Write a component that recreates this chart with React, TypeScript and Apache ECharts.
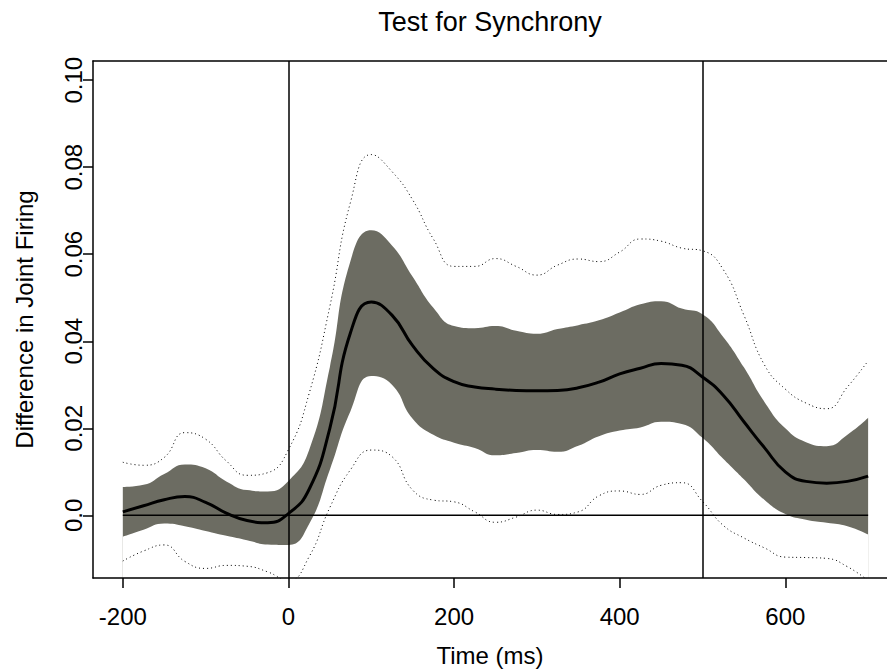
import React, { useEffect, useRef } from "react";
import * as echarts from "echarts";

const timeMs = [-200, -175, -150, -125, -100, -75, -50, -25, 0, 25, 50, 75, 100, 125, 150, 175, 200, 225, 250, 275, 300, 325, 350, 375, 400, 425, 450, 475, 500, 525, 550, 575, 600, 625, 650, 675, 700];

const meanDiff = [0.0008, 0.0022, 0.0036, 0.0043, 0.003, 0.0005, -0.0012, -0.0017, 0.0004, 0.006, 0.02, 0.042, 0.049, 0.046, 0.039, 0.0337, 0.0307, 0.0295, 0.029, 0.0287, 0.0286, 0.0287, 0.0293, 0.0306, 0.0325, 0.0338, 0.0349, 0.0345, 0.0318, 0.0276, 0.0215, 0.0155, 0.01, 0.0078, 0.0074, 0.0078, 0.009];

const bandUpper = [0.0065, 0.007, 0.0095, 0.0117, 0.0108, 0.0078, 0.0058, 0.0055, 0.0079, 0.015, 0.034, 0.0585, 0.0655, 0.062, 0.0548, 0.0477, 0.0435, 0.043, 0.0435, 0.0424, 0.0417, 0.0428, 0.0437, 0.0448, 0.0466, 0.0485, 0.0492, 0.0475, 0.0462, 0.041, 0.034, 0.026, 0.02, 0.0168, 0.0159, 0.0185, 0.0224];

const bandLower = [-0.0049, -0.0033, -0.0019, -0.0025, -0.0036, -0.0047, -0.0057, -0.0067, -0.0068, -0.002, 0.0105, 0.024, 0.032, 0.03, 0.0222, 0.0185, 0.0167, 0.0155, 0.0138, 0.0143, 0.015, 0.0146, 0.016, 0.0182, 0.0195, 0.0202, 0.0215, 0.021, 0.0178, 0.013, 0.0083, 0.0035, 0.0003, -0.001, -0.0017, -0.0025, -0.0044];

const dottedUpper = [0.0122, 0.0115, 0.0133, 0.019, 0.0175, 0.0125, 0.0092, 0.0098, 0.0151, 0.028, 0.048, 0.072, 0.0829, 0.079, 0.0725, 0.0635, 0.0572, 0.0572, 0.059, 0.0572, 0.0552, 0.0575, 0.0589, 0.0583, 0.0605, 0.0635, 0.063, 0.0614, 0.0608, 0.0565, 0.046, 0.0345, 0.029, 0.0258, 0.0245, 0.0295, 0.0355];

const dottedLower = [-0.0105, -0.0082, -0.0068, -0.0106, -0.0122, -0.0115, -0.0117, -0.013, -0.015, -0.0095, 0.0018, 0.0105, 0.015, 0.0135, 0.0058, 0.0035, 0.0031, 0.0008, -0.0016, -0.0004, 0.0012, 0.0002, 0.0008, 0.0045, 0.0056, 0.0048, 0.0069, 0.0075, 0.0032, -0.0023, -0.0052, -0.0075, -0.0096, -0.0097, -0.0099, -0.0118, -0.015];

const xTicks = [-200, 0, 200, 400, 600];
const yTicks = [0, 0.02, 0.04, 0.06, 0.08, 0.1];
const refTimes = [0, 500];

const X_MIN = -236;
const X_MAX = 722.8;
const Y_MIN = -0.0144;
const Y_MAX = 0.1044;

const FONT = "'Liberation Sans', Arial, Helvetica, sans-serif";

export default function App() {
  const ref = useRef<HTMLDivElement>(null);
  useEffect(() => {
    if (!ref.current) return;
    const chart = echarts.init(ref.current, null, { renderer: "svg" });
    const pair = (ys: number[]) => timeMs.map((t, i) => [t, ys[i]]);
    const axisLineStyle = { color: "#000", width: 1.5 };
    chart.setOption({
      animation: false,
      backgroundColor: "#ffffff",
      textStyle: { fontFamily: FONT },
      title: {
        text: "Test for Synchrony",
        left: 490,
        top: 8,
        padding: 0,
        textAlign: "center",
        textStyle: { fontFamily: FONT, fontSize: 27, fontWeight: "normal", color: "#000" },
      },
      grid: {
        left: 93,
        right: 0,
        top: 61,
        bottom: 93,
        show: false,
        containLabel: false,
      },
      xAxis: [
        {
          type: "value",
          min: X_MIN,
          max: X_MAX,
          position: "bottom",
          z: 10,
          name: "Time (ms)",
          nameLocation: "middle",
          nameGap: 65,
          nameTextStyle: { fontFamily: FONT, fontSize: 24, color: "#000" },
          axisLine: { show: true, onZero: false, lineStyle: axisLineStyle },
          axisTick: { show: true, length: 10, customValues: xTicks, lineStyle: axisLineStyle },
          axisLabel: {
            show: true,
            margin: 26,
            customValues: xTicks,
            fontFamily: FONT,
            fontSize: 24,
            color: "#000",
            formatter: (v: number) => String(v),
          },
          splitLine: { show: false },
        },
        {
          type: "value",
          min: X_MIN,
          max: X_MAX,
          position: "top",
          z: 10,
          axisLine: { show: true, onZero: false, lineStyle: axisLineStyle },
          axisTick: { show: false },
          axisLabel: { show: false },
          splitLine: { show: false },
        },
      ],
      yAxis: {
        type: "value",
        min: Y_MIN,
        max: Y_MAX,
        z: 10,
        name: "Difference in Joint Firing",
        nameLocation: "middle",
        nameGap: 57,
        nameTextStyle: { fontFamily: FONT, fontSize: 24, color: "#000" },
        axisLine: { show: true, onZero: false, lineStyle: axisLineStyle },
        axisTick: { show: true, length: 10, customValues: yTicks, lineStyle: axisLineStyle },
        axisLabel: {
          show: true,
          rotate: 90,
          margin: 8,
          customValues: yTicks,
          fontFamily: FONT,
          fontSize: 24,
          color: "#000",
          formatter: (v: number) => (Math.abs(v) < 1e-9 ? "0.0" : v.toFixed(2)),
        },
        splitLine: { show: false },
      },
      series: [
        {
          type: "line",
          name: "band-upper",
          data: pair(bandUpper),
          smooth: true,
          symbol: "none",
          lineStyle: { width: 0, opacity: 0 },
          areaStyle: { color: "#6c6c62", opacity: 1, origin: "start" },
          silent: true,
          z: 1,
        },
        {
          type: "line",
          name: "band-lower",
          data: pair(bandLower),
          smooth: true,
          symbol: "none",
          lineStyle: { width: 0, opacity: 0 },
          areaStyle: { color: "#ffffff", opacity: 1, origin: "start" },
          silent: true,
          z: 1,
        },
        {
          type: "line",
          name: "upper-dotted",
          data: pair(dottedUpper),
          smooth: true,
          symbol: "none",
          lineStyle: { color: "#000", width: 1, type: [1, 3] },
          z: 3,
        },
        {
          type: "line",
          name: "lower-dotted",
          data: pair(dottedLower),
          smooth: true,
          symbol: "none",
          lineStyle: { color: "#000", width: 1, type: [1, 3] },
          z: 3,
        },
        {
          type: "line",
          name: "zero",
          data: [[timeMs[0], 0], [timeMs[timeMs.length - 1], 0]],
          symbol: "none",
          lineStyle: { color: "#000", width: 1.5 },
          z: 4,
          markLine: {
            silent: true,
            symbol: ["none", "none"],
            label: { show: false },
            lineStyle: { color: "#000", width: 1.5, type: "solid" },
            data: refTimes.map((t) => ({ xAxis: t })),
          },
        },
        {
          type: "line",
          name: "mean",
          data: pair(meanDiff),
          smooth: true,
          symbol: "none",
          lineStyle: { color: "#000", width: 3 },
          z: 5,
        },
      ],
    });
    return () => chart.dispose();
  }, []);
  return (
    <div
      ref={ref}
      style={{ position: "fixed", left: 0, top: 0, width: 887, height: 672, background: "#fff" }}
    />
  );
}
